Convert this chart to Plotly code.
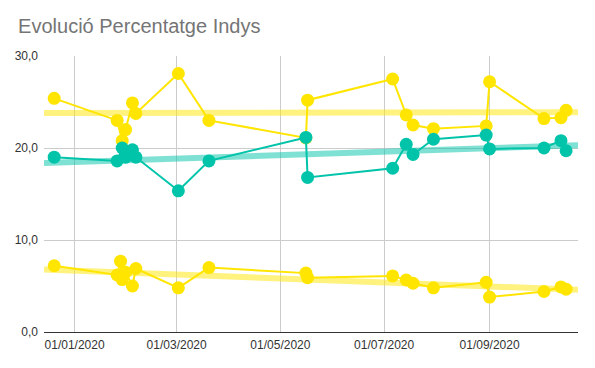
import numpy as np
import pandas as pd
import plotly.graph_objects as go

# ---- data ----
dates = ["2019-12-20", "2020-01-26", "2020-01-28", "2020-01-29", "2020-01-31",
         "2020-02-04", "2020-02-06", "2020-03-02", "2020-03-20", "2020-05-16",
         "2020-05-17", "2020-07-06", "2020-07-14", "2020-07-18", "2020-07-30",
         "2020-08-30", "2020-09-01", "2020-10-03", "2020-10-13", "2020-10-16"]

top_yellow = [25.4, 23.0, None, 20.8, 22.0, 24.9, 23.75, 28.1, 23.0, 21.1,
              25.2, 27.5, 23.6, 22.5, 22.1, 22.4, 27.2, 23.2, 23.3, 24.1]
teal = [19.0, 18.6, None, 20.0, 19.0, 19.8, 19.0, 15.35, 18.6, 21.15,
        16.8, 17.8, 20.4, 19.3, 20.95, 21.4, 19.9, 20.0, 20.8, 19.7]
bottom_yellow = [7.2, 6.2, 7.7, 5.7, 6.5, 5.0, 6.9, 4.8, 7.0, 6.4,
                 5.9, 6.1, 5.65, 5.3, 4.8, 5.4, 3.8, 4.4, 4.9, 4.65]

x_ticks = ["2020-01-01", "2020-03-01", "2020-05-01", "2020-07-01", "2020-09-01"]
x_tick_labels = ["01/01/2020", "01/03/2020", "01/05/2020", "01/07/2020", "01/09/2020"]
y_ticks = [0, 10, 20, 30]
y_tick_labels = ["0,0", "10,0", "20,0", "30,0"]
x_range = ["2019-12-14", "2020-10-23"]

title = "Evolució Percentatge Indys"

YELLOW = "#ffe500"
TEAL = "#00c4aa"
YELLOW_TREND = "rgba(255,229,0,0.5)"
TEAL_TREND = "rgba(0,196,170,0.5)"

fig = go.Figure()

dt = pd.to_datetime(dates)
x0 = pd.Timestamp(x_range[0])
x1 = pd.Timestamp(x_range[1])


def trend(vals):
    d = np.array([(t - x0).days for t, v in zip(dt, vals) if v is not None], dtype=float)
    v = np.array([v for v in vals if v is not None], dtype=float)
    k, b = np.polyfit(d, v, 1)
    span = (x1 - x0).days
    return [x0, x1], [b, b + k * span]


for vals, col in [(top_yellow, YELLOW_TREND), (teal, TEAL_TREND), (bottom_yellow, YELLOW_TREND)]:
    tx, ty = trend(vals)
    fig.add_trace(go.Scatter(x=tx, y=ty, mode="lines",
                             line=dict(color=col, width=6),
                             showlegend=False, hoverinfo="skip"))

for vals, col in [(top_yellow, YELLOW), (bottom_yellow, YELLOW), (teal, TEAL)]:
    xs = [t for t, v in zip(dt, vals) if v is not None]
    ys = [v for v in vals if v is not None]
    fig.add_trace(go.Scatter(x=xs, y=ys, mode="lines+markers",
                             line=dict(color=col, width=2),
                             marker=dict(color=col, size=13),
                             showlegend=False))

fig.update_layout(
    width=595, height=368,
    margin=dict(l=36, r=25, t=48, b=44),
    paper_bgcolor="white", plot_bgcolor="white",
    font=dict(family="Liberation Sans, Arial, sans-serif", size=12, color="#333333"),
    title=dict(text=title, x=0.017, xanchor="left", y=0.951, yanchor="middle",
               font=dict(size=20, color="#757575", family="Liberation Sans, Arial, sans-serif")),
    xaxis=dict(type="date", range=x_range, tickvals=x_ticks, ticktext=x_tick_labels,
               showgrid=True, gridcolor="#cccccc", gridwidth=1, zeroline=False,
               showline=False, ticks="", ticklabelstandoff=4, automargin=False,
               tickfont=dict(size=12, color="#333333")),
    yaxis=dict(range=[0, 30], tickvals=y_ticks, ticktext=y_tick_labels,
               showgrid=True, gridcolor="#cccccc", gridwidth=1,
               zeroline=True, zerolinecolor="#333333", zerolinewidth=1,
               showline=False, ticks="", ticklen=0, ticklabelstandoff=5, automargin=False,
               tickfont=dict(size=12, color="#333333")),
)

fig.write_html("out.html")
